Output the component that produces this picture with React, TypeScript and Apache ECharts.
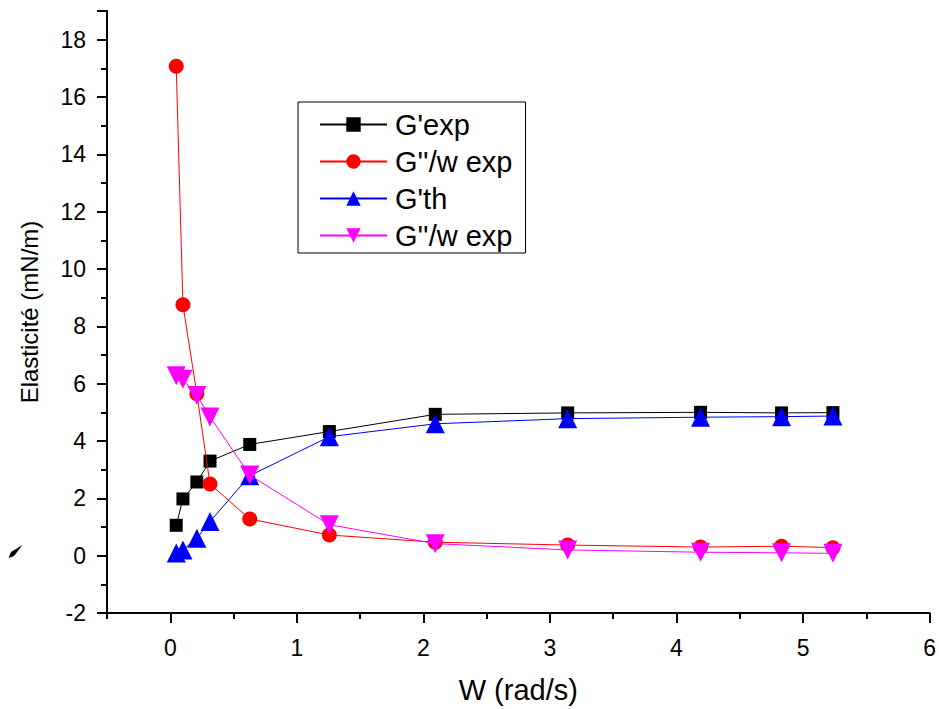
import React, { useEffect, useRef } from "react";
import * as echarts from "echarts";

const W = [0.047, 0.1, 0.21, 0.314, 0.628, 1.257, 2.094, 3.14, 4.19, 4.83, 5.236];
const gPrimeExp = [1.06, 1.98, 2.57, 3.3, 3.88, 4.33, 4.93, 4.98, 5.0, 4.98, 4.99];
const gSecondExp = [17.07, 8.75, 5.65, 2.5, 1.28, 0.72, 0.47, 0.37, 0.3, 0.33, 0.28];
const gPrimeTh = [0.09, 0.2, 0.61, 1.19, 2.79, 4.15, 4.6, 4.78, 4.83, 4.85, 4.87];
const gSecondExp2 = [6.28, 6.15, 5.59, 4.84, 2.81, 1.08, 0.42, 0.2, 0.12, 0.1, 0.08];

const xMajorTicks = [0, 1, 2, 3, 4, 5, 6];

const seriesNames = ["G'exp", "G''/w exp", "G'th", "G''/w exp "];
const seriesColors = ["#000000", "#ff0000", "#0000ff", "#ff00ff"];
const seriesSymbols = ["rect", "circle", "triangle", "path://M0,0 L10,0 L5,9 Z"];
const seriesSizes = [13, 15, 19, 19];
const seriesValues = [gPrimeExp, gSecondExp, gPrimeTh, gSecondExp2];

const FONT = "Liberation Sans, Arial, sans-serif";

export default function App() {
  const ref = useRef<HTMLDivElement>(null);
  useEffect(() => {
    document.body.style.margin = "0";
    if (!ref.current) return;
    const chart = echarts.init(ref.current, null, { renderer: "svg" });
    const line = { show: true, onZero: false, lineStyle: { color: "#000", width: 2 } };
    const label = { color: "#000", fontSize: 23, fontFamily: FONT };
    chart.setOption({
      animation: false,
      backgroundColor: "#fff",
      grid: { left: 107, right: 8, top: 11, bottom: 93.5, containLabel: false },
      xAxis: [
        {
          type: "value",
          min: -0.5,
          max: 6,
          interval: 0.5,
          axisLine: line,
          axisTick: {
            show: true,
            length: 10,
            customValues: xMajorTicks,
            lineStyle: { color: "#000", width: 2 },
          },
          splitLine: { show: false },
          axisLabel: { ...label, margin: 23, customValues: xMajorTicks },
          name: "W (rad/s)",
          nameLocation: "middle",
          nameGap: 62,
          nameTextStyle: { color: "#000", fontSize: 29, fontFamily: FONT },
        },
        {
          type: "value",
          position: "bottom",
          min: -0.5,
          max: 6,
          interval: 0.5,
          axisLine: { show: false, onZero: false },
          axisTick: { show: true, length: 6, lineStyle: { color: "#000", width: 2 } },
          axisLabel: { show: false },
          splitLine: { show: false },
        },
      ],
      yAxis: {
        type: "value",
        min: -2,
        max: 19,
        interval: 2,
        axisLine: line,
        axisTick: { show: true, length: 10, lineStyle: { color: "#000", width: 2 } },
        minorTick: { show: true, splitNumber: 2, length: 6, lineStyle: { color: "#000", width: 2 } },
        splitLine: { show: false },
        axisLabel: { ...label, margin: 21, formatter: (v: number) => (v > 18 ? "" : String(v)) },
        name: "Elasticité (mN/m)",
        nameLocation: "middle",
        nameGap: 66,
        nameTextStyle: { color: "#000", fontSize: 24, fontFamily: FONT },
      },
      legend: {
        orient: "vertical",
        left: 298,
        top: 102,
        padding: [8, 5, 3, 21],
        itemGap: 8,
        itemWidth: 67,
        itemHeight: 18,
        borderColor: "#000",
        borderWidth: 1,
        borderRadius: 0,
        textStyle: { color: "#000", fontSize: 29, fontFamily: FONT, padding: [0, 0, 0, 3] },
        data: seriesNames,
      },
      series: seriesNames.map((name, i) => ({
        name,
        type: "line",
        xAxisIndex: 0,
        data: W.map((x, j) => [x, seriesValues[i][j]]),
        symbol: seriesSymbols[i],
        symbolSize: seriesSizes[i],
        showSymbol: true,
        lineStyle: { color: seriesColors[i], width: 1 },
        itemStyle: { color: seriesColors[i], borderWidth: 0 },
        z: 2 + i,
      })),
      graphic: [
        {
          type: "polygon",
          shape: { points: [[22.5, 545], [11, 552], [8.5, 558], [14, 556]] },
          style: { fill: "#000" },
        },
      ],
    });
    return () => chart.dispose();
  }, []);
  return <div ref={ref} style={{ width: 939, height: 709 }} />;
}
